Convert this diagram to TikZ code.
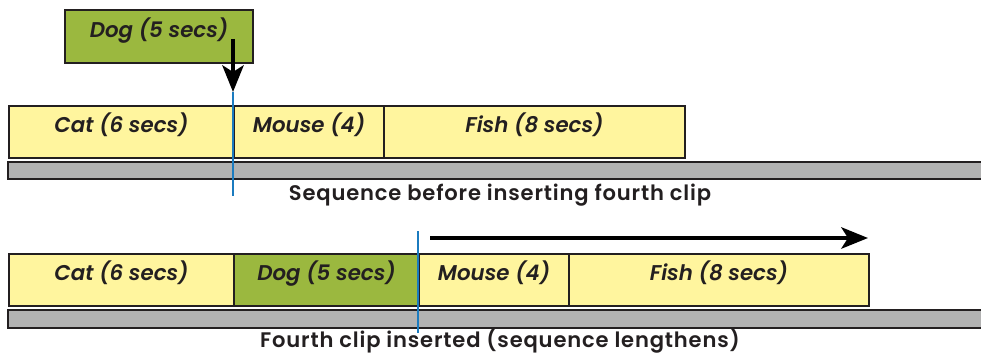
\documentclass[tikz,border=0pt]{standalone}
\usepackage{fontspec}
\setmainfont{Poppins}
\newfontfamily\lblfont{Poppins SemiBold Italic}
\newfontfamily\capfont{Poppins SemiBold}[LetterSpace=4]
\usetikzlibrary{arrows.meta}
\definecolor{clipyellow}{HTML}{FFF59E}
\definecolor{clipgreen}{HTML}{9BB83F}
\definecolor{bargray}{HTML}{B2B2B2}
\definecolor{cursorblue}{HTML}{1B7BBF}
\definecolor{edge}{HTML}{231F20}
\tikzset{
  clipbox/.style={draw=edge, line width=1.5pt, fill=clipyellow, anchor=north west,
    minimum height=39pt, inner sep=0pt, text=edge, text height=8pt, text depth=7pt,
    font=\fontsize{16}{18}\lblfont},
  dogbox/.style={clipbox, fill=clipgreen},
  trackbar/.style={draw=edge, line width=0.8pt, fill=bargray},
  cursor/.style={draw=cursorblue, line width=1.8pt},
  bigarrow/.style={draw=black, line width=3pt, -{Stealth[length=20pt, width=16pt, inset=5pt]}},
  caption/.style={font=\fontsize{15.8}{17}\capfont, text=edge}
}
\begin{document}
\begin{tikzpicture}[x=0.75pt, y=-0.75pt]
\useasboundingbox (0,0) rectangle (981,356);
% top (before)
\node[dogbox, minimum width=141pt, minimum height=39.75pt] (dogtop) at (64,9) {Dog (5 secs)};
\node[clipbox, minimum width=168.75pt] (cat1) at (8,105) {Cat (6 secs)};
\node[clipbox, minimum width=112.5pt] (mouse1) at (233,105) {Mouse (4)};
\node[clipbox, minimum width=225.75pt] (fish1) at (383,105) {Fish (8 secs)};
\draw[trackbar] (8,162) rectangle (985,179);
\coordinate (arrstart) at (233,39);
\coordinate (cur1top) at (233,92);
\coordinate (cur1bot) at (233,196);
\draw[bigarrow] (arrstart) -- (cur1top);
\draw[cursor] (cur1top) -- (cur1bot);
\node[caption] (cap1) at (500,195) {Sequence before inserting fourth clip};
% bottom (after)
\node[clipbox, minimum width=168.75pt] (cat2) at (8,253) {Cat (6 secs)};
\node[dogbox, minimum width=138.75pt] (dog2) at (233,253) {Dog (5 secs)};
\node[clipbox, minimum width=112.5pt] (mouse2) at (418,253) {Mouse (4)};
\node[clipbox, minimum width=225pt] (fish2) at (568,253) {Fish (8 secs)};
\draw[trackbar] (8,310) rectangle (985,328);
\coordinate (cur2top) at (418,231);
\coordinate (cur2bot) at (418,333);
\draw[cursor] (cur2top) -- (cur2bot);
\coordinate (shiftstart) at (430,238);
\coordinate (shiftend) at (868,238);
\draw[bigarrow] (shiftstart) -- (shiftend);
\node[caption] (cap2) at (500,341) {Fourth clip inserted (sequence lengthens)};
\end{tikzpicture}
\end{document}
